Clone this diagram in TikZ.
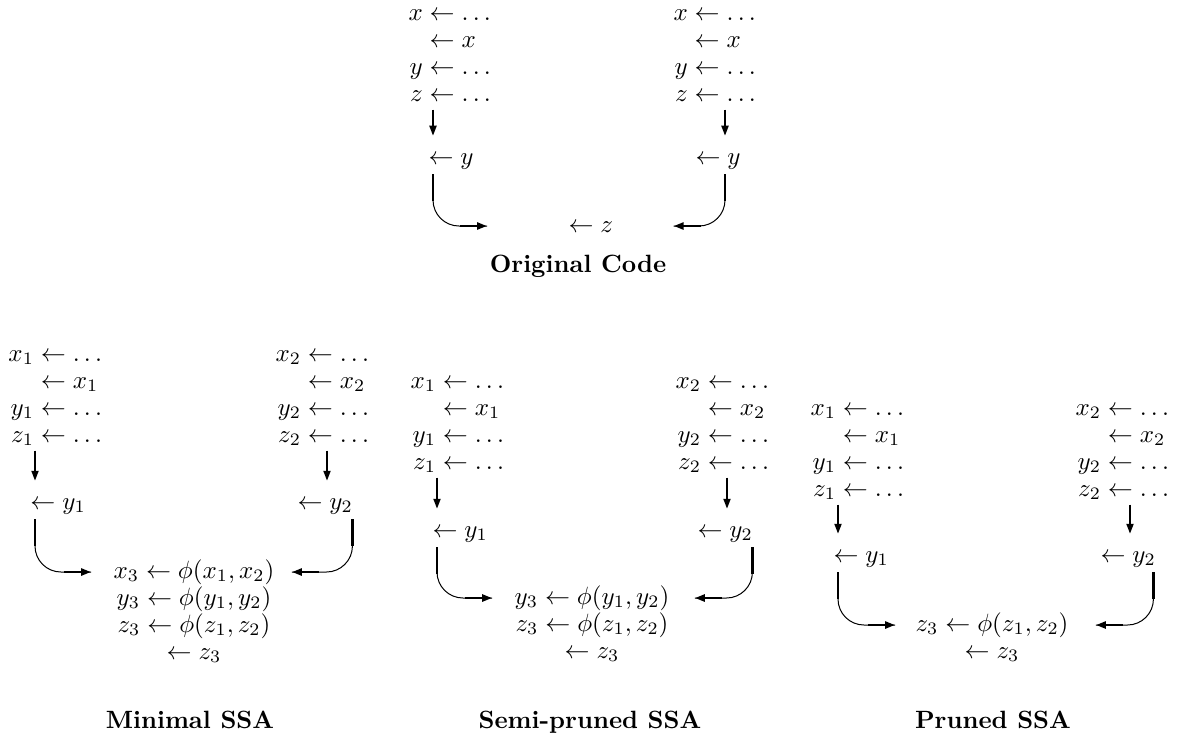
\documentclass[tikz,border=0pt]{standalone}
\usepackage{amsmath}
\usepackage{tikz}
\usetikzlibrary{arrows.meta}
\renewcommand{\arraystretch}{0.9}
% #1 start below the "<- y" line, #2 arrow end, #3 length of the straight end piece
\newcommand{\hookto}[3]{%
  \draw[hookcurve] (#1) |- (#2);
  \draw[hookstem] (#1) -- ++(0,27);
  \draw[hookend] (#2) ++(#3,0) -- (#2);}

\begin{document}
\begin{tikzpicture}[
    x=0.4pt, y=-0.4pt,
    code/.style={inner sep=0pt,anchor=base west},
    phiblk/.style={inner sep=0pt,anchor=base},
    sublabel/.style={inner sep=0pt,anchor=base,font=\bfseries},
    downarrow/.style={line width=0.8pt,-{Triangle[length=4pt,width=2.8pt]}},
    hookstem/.style={line width=0.9pt},
    hookcurve/.style={line width=0.4pt,rounded corners=10.4pt},
    hookend/.style={line width=1.1pt,-{Triangle[length=4pt,width=2.8pt]}}
]
\useasboundingbox (0,0) rectangle (1179,736);

% Original code
\node[code] (tl) at (408,20) {$\begin{array}[t]{@{}r@{}l@{}}
  x & {}\leftarrow \ldots\\ & {}\leftarrow x\\ y & {}\leftarrow \ldots\\ z & {}\leftarrow \ldots
  \end{array}$};
\node[code] (tr) at (673,20) {$\begin{array}[t]{@{}r@{}l@{}}
  x & {}\leftarrow \ldots\\ & {}\leftarrow x\\ y & {}\leftarrow \ldots\\ z & {}\leftarrow \ldots
  \end{array}$};
\node[code] (tly) at (428,164) {$\leftarrow y$};
\node[code] (try) at (695,164) {$\leftarrow y$};
\node[code] (tz) at (568,232) {$\leftarrow z$};
\node[sublabel] (tcap) at (578,272) {Original Code};

\draw[downarrow] ([xshift=2pt]tly.west |- tl.south) -- ([xshift=2pt,yshift=6.8pt]tly.north west);
\draw[downarrow] ([xshift=12pt]try.west |- tr.south) -- ([xshift=12pt,yshift=6.8pt]try.north west);
\coordinate (tls) at ([xshift=2pt,yshift=-4pt]tly.base west);
\coordinate (tle) at ([xshift=-32.4pt,yshift=2.4pt]tz.base west);
\coordinate (trs) at ([xshift=12pt,yshift=-4pt]try.base west);
\coordinate (tre) at ([xshift=24pt,yshift=2.4pt]tz.base east);
\hookto{tls}{tle}{-27}
\hookto{trs}{tre}{27}

% Minimal SSA
\node[code] (ml) at (8,361) {$\begin{array}[t]{@{}r@{}l@{}}
  x_1 & {}\leftarrow \ldots\\ & {}\leftarrow x_1\\ y_1 & {}\leftarrow \ldots\\ z_1 & {}\leftarrow \ldots
  \end{array}$};
\node[code] (mr) at (275,361) {$\begin{array}[t]{@{}r@{}l@{}}
  x_2 & {}\leftarrow \ldots\\ & {}\leftarrow x_2\\ y_2 & {}\leftarrow \ldots\\ z_2 & {}\leftarrow \ldots
  \end{array}$};
\node[code] (mly) at (30,509) {$\leftarrow y_1$};
\node[code] (mry) at (297,509) {$\leftarrow y_2$};
\node[phiblk] (mphi) at (194,578) {$\begin{array}[t]{@{}c@{}}
  x_3 \leftarrow \phi(x_1, x_2)\\ y_3 \leftarrow \phi(y_1, y_2)\\ z_3 \leftarrow \phi(z_1, z_2)\\ \leftarrow z_3
  \end{array}$};
\node[sublabel] (mcap) at (190,728) {Minimal SSA};

\draw[downarrow] ([xshift=2pt]mly.west |- ml.south) -- ([xshift=2pt,yshift=6.8pt]mly.north west);
\draw[downarrow] ([xshift=12pt]mry.west |- mr.south) -- ([xshift=12pt,yshift=6.8pt]mry.north west);
\coordinate (mls) at ([xshift=2pt,yshift=-4pt]mly.base west);
\coordinate (mle) at ([xshift=-8.8pt,yshift=2.4pt]mphi.base west);
\coordinate (mrs) at ([xshift=-0.4pt,yshift=-4pt]mry.base east);
\coordinate (mre) at ([xshift=6.8pt,yshift=2.4pt]mphi.base east);
\hookto{mls}{mle}{-27}
\hookto{mrs}{mre}{27}

% Semi-pruned SSA
\node[code] (sl) at (410,388) {$\begin{array}[t]{@{}r@{}l@{}}
  x_1 & {}\leftarrow \ldots\\ & {}\leftarrow x_1\\ y_1 & {}\leftarrow \ldots\\ z_1 & {}\leftarrow \ldots
  \end{array}$};
\node[code] (sr) at (675,388) {$\begin{array}[t]{@{}r@{}l@{}}
  x_2 & {}\leftarrow \ldots\\ & {}\leftarrow x_2\\ y_2 & {}\leftarrow \ldots\\ z_2 & {}\leftarrow \ldots
  \end{array}$};
\node[code] (sly) at (432,537) {$\leftarrow y_1$};
\node[code] (sry) at (697,537) {$\leftarrow y_2$};
\node[phiblk] (sphi) at (592,604) {$\begin{array}[t]{@{}c@{}}
  y_3 \leftarrow \phi(y_1, y_2)\\ z_3 \leftarrow \phi(z_1, z_2)\\ \leftarrow z_3
  \end{array}$};
\node[sublabel] (scap) at (590,728) {Semi-pruned SSA};

\draw[downarrow] ([xshift=2pt]sly.west |- sl.south) -- ([xshift=2pt,yshift=6.8pt]sly.north west);
\draw[downarrow] ([xshift=12pt]sry.west |- sr.south) -- ([xshift=12pt,yshift=6.8pt]sry.north west);
\coordinate (sls) at ([xshift=2pt,yshift=-4pt]sly.base west);
\coordinate (sle) at ([xshift=-8.8pt,yshift=2.4pt]sphi.base west);
\coordinate (srs) at ([xshift=-0.4pt,yshift=-4pt]sry.base east);
\coordinate (sre) at ([xshift=10pt,yshift=2.4pt]sphi.base east);
\hookto{sls}{sle}{-27}
\hookto{srs}{sre}{27}

% Pruned SSA
\node[code] (pl) at (810,415) {$\begin{array}[t]{@{}r@{}l@{}}
  x_1 & {}\leftarrow \ldots\\ & {}\leftarrow x_1\\ y_1 & {}\leftarrow \ldots\\ z_1 & {}\leftarrow \ldots
  \end{array}$};
\node[code] (pr) at (1075,415) {$\begin{array}[t]{@{}r@{}l@{}}
  x_2 & {}\leftarrow \ldots\\ & {}\leftarrow x_2\\ y_2 & {}\leftarrow \ldots\\ z_2 & {}\leftarrow \ldots
  \end{array}$};
\node[code] (ply) at (833,562) {$\leftarrow y_1$};
\node[code] (pry) at (1100,562) {$\leftarrow y_2$};
\node[phiblk] (pphi) at (992,631) {$\begin{array}[t]{@{}c@{}}
  z_3 \leftarrow \phi(z_1, z_2)\\ \leftarrow z_3
  \end{array}$};
\node[sublabel] (pcap) at (993,728) {Pruned SSA};

\draw[downarrow] ([xshift=2pt]ply.west |- pl.south) -- ([xshift=2pt,yshift=6.8pt]ply.north west);
\draw[downarrow] ([xshift=12pt]pry.west |- pr.south) -- ([xshift=12pt,yshift=6.8pt]pry.north west);
\coordinate (pls) at ([xshift=2pt,yshift=-4pt]ply.base west);
\coordinate (ple) at ([xshift=-8pt,yshift=2.4pt]pphi.base west);
\coordinate (prs) at ([xshift=-1.2pt,yshift=-4pt]pry.base east);
\coordinate (pre) at ([xshift=10.8pt,yshift=2.4pt]pphi.base east);
\hookto{pls}{ple}{-27}
\hookto{prs}{pre}{27}
\end{tikzpicture}
\end{document}
